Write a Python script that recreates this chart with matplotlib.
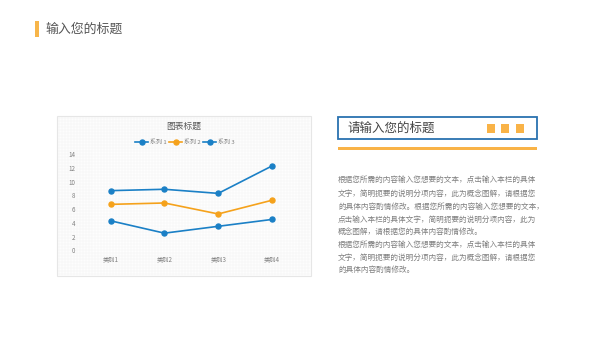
import numpy as np
import matplotlib
matplotlib.use("Agg")
import matplotlib.pyplot as plt
from matplotlib.patches import Rectangle

plt.rcParams['font.family'] = ['Noto Sans CJK SC', 'DejaVu Sans']

# chart data (stacked line chart)
categories = ["类别1", "类别2", "类别3", "类别4"]
series_names = ["系列 1", "系列 2", "系列 3"]
series1 = [4.3, 2.5, 3.5, 4.5]
series2 = [2.4, 4.4, 1.8, 2.8]
series3 = [2.0, 2.0, 3.0, 5.0]
y_ticks = [0, 2, 4, 6, 8, 10, 12, 14]

page_title = "输入您的标题"
box_title = "请输入您的标题"
para1 = ["根据您所需的内容输入您想要的文本，点击输入本栏的具体",
         "文字，简明扼要的说明分项内容，此为概念图解，请根据您",
         "的具体内容酌情修改。根据您所需的内容输入您想要的文本，",
         "点击输入本栏的具体文字，简明扼要的说明分项内容，此为",
         "概念图解，请根据您的具体内容酌情修改。"]
para2 = ["根据您所需的内容输入您想要的文本，点击输入本栏的具体",
         "文字，简明扼要的说明分项内容，此为概念图解，请根据您",
         "的具体内容酌情修改。"]

blue = '#1b80c6'
orange = '#f5a21c'
grey_txt = '#7f7f7f'

fig = plt.figure(figsize=(6, 3.38), dpi=100)
fig.patch.set_facecolor('white')

# background layer in pixel coords
bg = fig.add_axes([0, 0, 1, 1])
bg.set_xlim(0, 600)
bg.set_ylim(338, 0)
bg.axis('off')

# header
bg.add_patch(Rectangle((35, 21), 3.5, 16, color='#f7b54a', lw=0))
bg.text(45, 29, page_title, fontsize=9.3, color='#555555', va='center', ha='left')

# chart panel with fine grid texture
bg.add_patch(Rectangle((57, 116), 254, 160, facecolor='#fdfdfd', edgecolor='#e6e6e6', lw=0.8))
for x in np.arange(59, 311, 3):
    bg.plot([x, x], [117, 275], color='#f3f3f3', lw=0.3)
for y in np.arange(118, 276, 3):
    bg.plot([58, 310], [y, y], color='#f3f3f3', lw=0.3)
bg.add_patch(Rectangle((92, 150), 206, 102, facecolor='white', edgecolor='none', alpha=0.8))
bg.text(184, 126, "图表标题", fontsize=6.3, color='#595959', ha='center', va='center')

# right side title box
bg.add_patch(Rectangle((338, 117), 199, 22, facecolor='white', edgecolor='#2a72b0', lw=1.3))
bg.text(348, 128, box_title, fontsize=9, color='#444444', ha='left', va='center')
for sx in [487, 501, 516]:
    bg.add_patch(Rectangle((sx, 124), 7.5, 8.5, facecolor='#f9b347', edgecolor='none'))
bg.add_patch(Rectangle((338, 146.5), 199, 3, facecolor='#f9b347', edgecolor='none'))

# paragraphs
ys1 = [180, 193.5, 206.5, 219.5, 232]
ys2 = [245, 257.5, 270]
for line, y in zip(para1, ys1):
    bg.text(338, y, line, fontsize=5.5, color=grey_txt, ha='left', va='center')
for line, y in zip(para2, ys2):
    bg.text(338, y, line, fontsize=5.5, color=grey_txt, ha='left', va='center')

# line chart
ax = fig.add_axes([83.8 / 600, (338 - 250.3) / 338, 215.1 / 600, 96 / 338])
ax.patch.set_alpha(0)
stack = np.cumsum(np.array([series1, series2, series3]), axis=0)
colors = [blue, orange, blue]
x = np.arange(len(categories))
for vals, c, name in zip(stack, colors, series_names):
    ax.plot(x, vals, color=c, lw=1.2, marker='o', markersize=3.6, label=name)
ax.set_xlim(-0.5, len(categories) - 0.5)
ax.set_ylim(0, 14)
ax.set_yticks(y_ticks)
ax.set_xticks(x)
ax.set_xticklabels(categories)
ax.tick_params(axis='both', length=0, labelsize=4.5, labelcolor='#808080', pad=4)
ax.tick_params(axis='y', pad=6)
for s in ax.spines.values():
    s.set_visible(False)
ax.legend(ncol=3, loc='center', bbox_to_anchor=(0.47, 1.125), frameon=False,
          fontsize=4.3, handlelength=2.2, handletextpad=0.3, columnspacing=0.4,
          labelcolor='#808080')

plt.savefig("out.png", dpi=100)
